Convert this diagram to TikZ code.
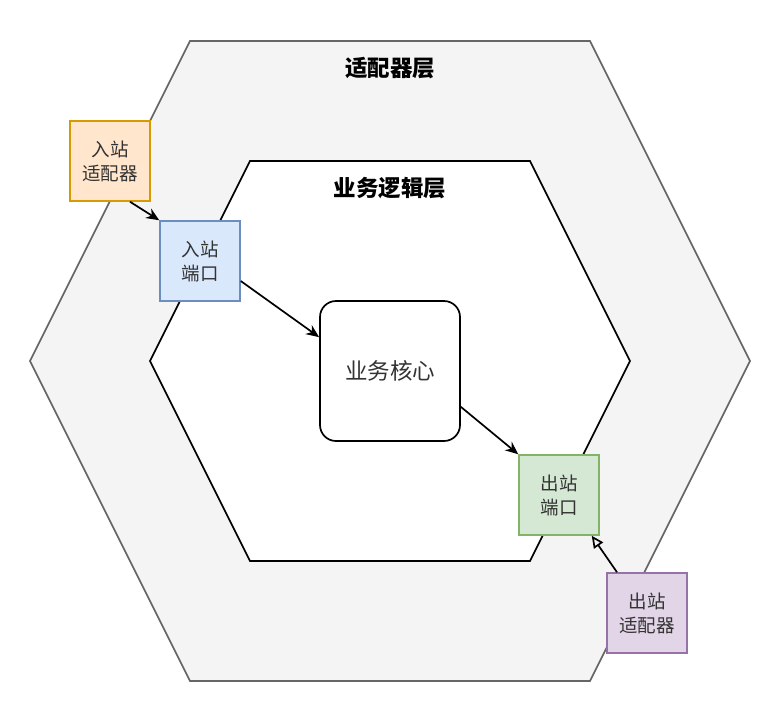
\documentclass[tikz,border=0pt]{standalone}
\usepackage{fontspec}
\setmainfont{Noto Sans CJK SC}
\usetikzlibrary{arrows.meta}
\definecolor{og}{HTML}{666666}
\definecolor{txt}{HTML}{333333}
\tikzset{
 box/.style={draw,line width=1.5pt,minimum width=80pt,minimum height=80pt,inner sep=0pt,text=txt,font=\fontsize{18.5}{24}\selectfont,align=center},
 arr/.style={-{Stealth[length=13pt,width=11pt]},line width=1.7pt},
 title/.style={font=\fontsize{22.5}{27}\selectfont\bfseries}
}
\begin{document}
\begin{tikzpicture}[x=1pt,y=-1pt]
\useasboundingbox (0,0) rectangle (782,716);
\fill[white] (0,0) rectangle (782,716);
\draw[og,fill={rgb,255:red,244;green,244;blue,244},line width=1.6pt] (190,41)--(590,41)--(750,361)--(590,681)--(190,681)--(30,361)--cycle;
\draw[black,fill=white,line width=1.7pt] (250,161)--(530,161)--(630,361)--(530,561)--(250,561)--(150,361)--cycle;
\node[title] (t1) at (390,68) {适配器层};
\node[title] (t2) at (390,188) {业务逻辑层};
\node[draw,rounded corners=16pt,line width=1.7pt,minimum width=140pt,minimum height=140pt,font=\fontsize{22.5}{27}\selectfont,text=txt] (core) at (390,371) {业务核心};
\node[box,fill={rgb,255:red,255;green,230;blue,204},draw={rgb,255:red,215;green,155;blue,0}] (ia) at (110,161) {入站\\适配器};
\node[box,fill={rgb,255:red,218;green,232;blue,252},draw={rgb,255:red,108;green,142;blue,191}] (ip) at (200,261) {入站\\端口};
\node[box,fill={rgb,255:red,213;green,232;blue,212},draw={rgb,255:red,130;green,179;blue,102}] (op) at (559,495) {出站\\端口};
\node[box,fill={rgb,255:red,225;green,213;blue,231},draw={rgb,255:red,150;green,115;blue,166}] (oa) at (647,613) {出站\\适配器};
\draw[arr] ([xshift=20pt]ia.south) -- (ip.north west);
\draw[arr] ([yshift=-20pt]ip.east) -- ([yshift=-37pt]core.north west);
\draw[arr] ([yshift=35pt]core.south east) -- (op.north west);
\draw[-{Triangle[open,length=12pt,width=11pt]},line width=1.7pt] ([xshift=-30pt]oa.north) -- ([xshift=-8pt]op.south east);
\end{tikzpicture}
\end{document}
